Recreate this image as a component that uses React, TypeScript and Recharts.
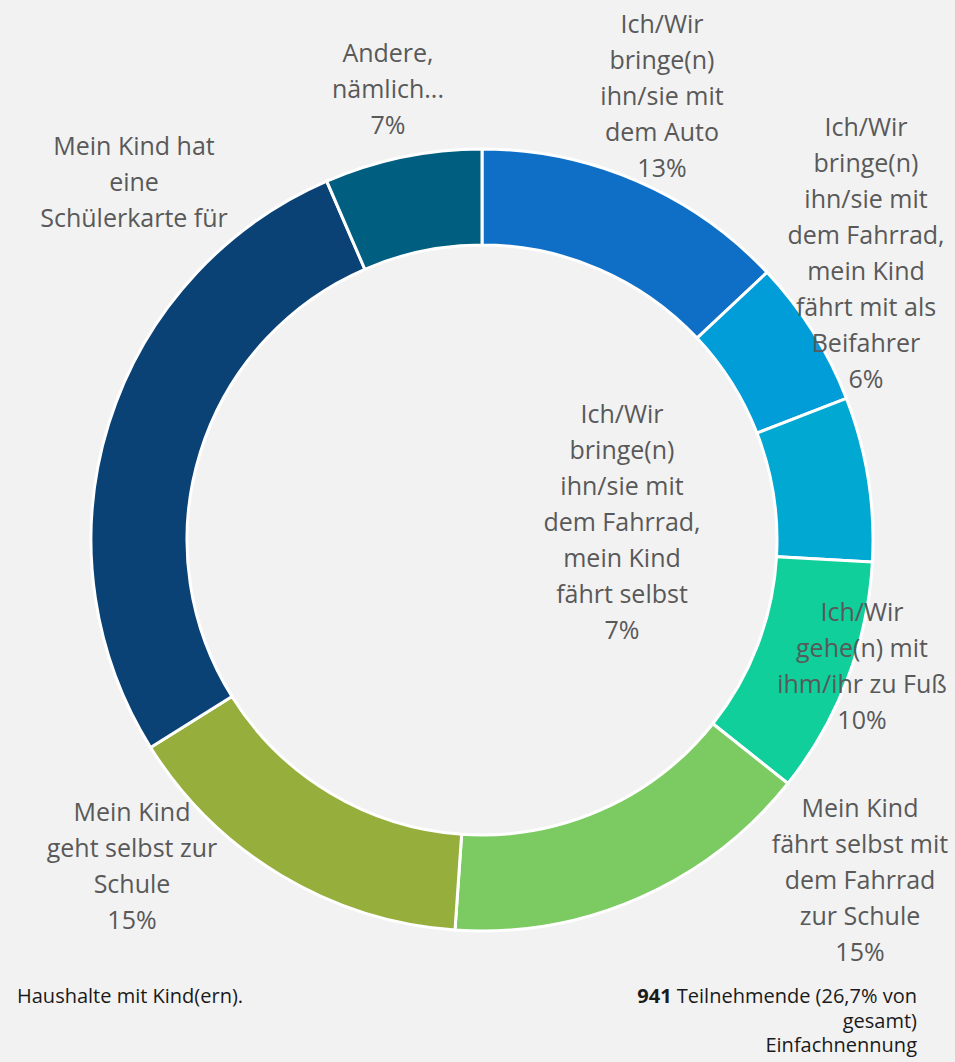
import { Cell, Pie, PieChart } from "recharts";

const categories = [
  "Ich/Wir\nbringe(n)\nihn/sie mit\ndem Auto",
  "Ich/Wir\nbringe(n)\nihn/sie mit\ndem Fahrrad,\nmein Kind\nfährt mit als\nBeifahrer",
  "Ich/Wir\nbringe(n)\nihn/sie mit\ndem Fahrrad,\nmein Kind\nfährt selbst",
  "Ich/Wir\ngehe(n) mit\nihm/ihr zu Fuß",
  "Mein Kind\nfährt selbst mit\ndem Fahrrad\nzur Schule",
  "Mein Kind\ngeht selbst zur\nSchule",
  "Mein Kind hat\neine\nSchülerkarte für",
  "Andere,\nnämlich...",
];

const shares = [13.0, 6.1, 6.8, 9.8, 15.4, 15.0, 27.4, 6.5];

// the Schülerkarte label is cut off in the original, no percentage shown
const showPercent = [true, true, true, true, true, true, false, true];

const colors = ["#0F6FC6", "#009DD9", "#00A8D2", "#10CF9B", "#7CCA62", "#96AF3C", "#0B4276", "#005F81"];

// label block centres, relative to the pie centre
const labelOffsets: Array<[number, number]> = [
  [180, -445],
  [384, -288],
  [140, -19],
  [380, 125],
  [378, 339],
  [-350, 325],
  [-348, -359],
  [-94, -452],
];

const data = categories.map((name, i) => ({ name, value: shares[i] }));

const LINE_HEIGHT = 36;

function renderLabel(props: any) {
  const { cx, cy, index, value } = props;
  const lines = categories[index].split("\n");
  if (showPercent[index]) lines.push(`${Math.round(value)}%`);
  const [dx, dy] = labelOffsets[index];
  const x = cx + dx;
  const top = cy + dy - ((lines.length - 1) * LINE_HEIGHT) / 2;
  return (
    <text
      x={x}
      y={top}
      textAnchor="middle"
      fill="#595959"
      fontSize={25}
      fontFamily="'Open Sans', 'Noto Sans', sans-serif"
    >
      {lines.map((line, i) => (
        <tspan key={i} x={x} y={top + i * LINE_HEIGHT} dominantBaseline="central">
          {line}
        </tspan>
      ))}
    </text>
  );
}

const footStyle = {
  position: "absolute" as const,
  top: 984,
  fontFamily: "'Open Sans', 'Noto Sans', sans-serif",
  fontSize: 20,
  color: "#1A1A1A",
  whiteSpace: "nowrap" as const,
};

const footLine = { height: 24.5, lineHeight: "24.5px", overflow: "visible" as const };

export default function App() {
  return (
    <div
      style={{
        position: "absolute",
        left: 0,
        top: 0,
        width: 955,
        height: 1062,
        background: "#F2F2F2",
        overflow: "hidden",
      }}
    >
      <PieChart width={955} height={970} margin={{ top: 0, right: 0, bottom: 0, left: 0 }}>
        <Pie
          data={data}
          dataKey="value"
          nameKey="name"
          cx={482}
          cy={540}
          innerRadius={295}
          outerRadius={391}
          startAngle={90}
          endAngle={-270}
          stroke="#FFFFFF"
          strokeWidth={3}
          label={renderLabel}
          labelLine={false}
          isAnimationActive={false}
        >
          {data.map((entry, i) => (
            <Cell key={entry.name} fill={colors[i]} />
          ))}
        </Pie>
      </PieChart>
      <div style={{ ...footStyle, left: 17 }}>
        <div style={footLine}>Haushalte mit Kind(ern).</div>
      </div>
      <div style={{ ...footStyle, right: 38, textAlign: "right" }}>
        <div style={footLine}>
          <b>941</b> Teilnehmende (26,7% von
        </div>
        <div style={footLine}>gesamt)</div>
        <div style={footLine}>Einfachnennung</div>
      </div>
    </div>
  );
}
